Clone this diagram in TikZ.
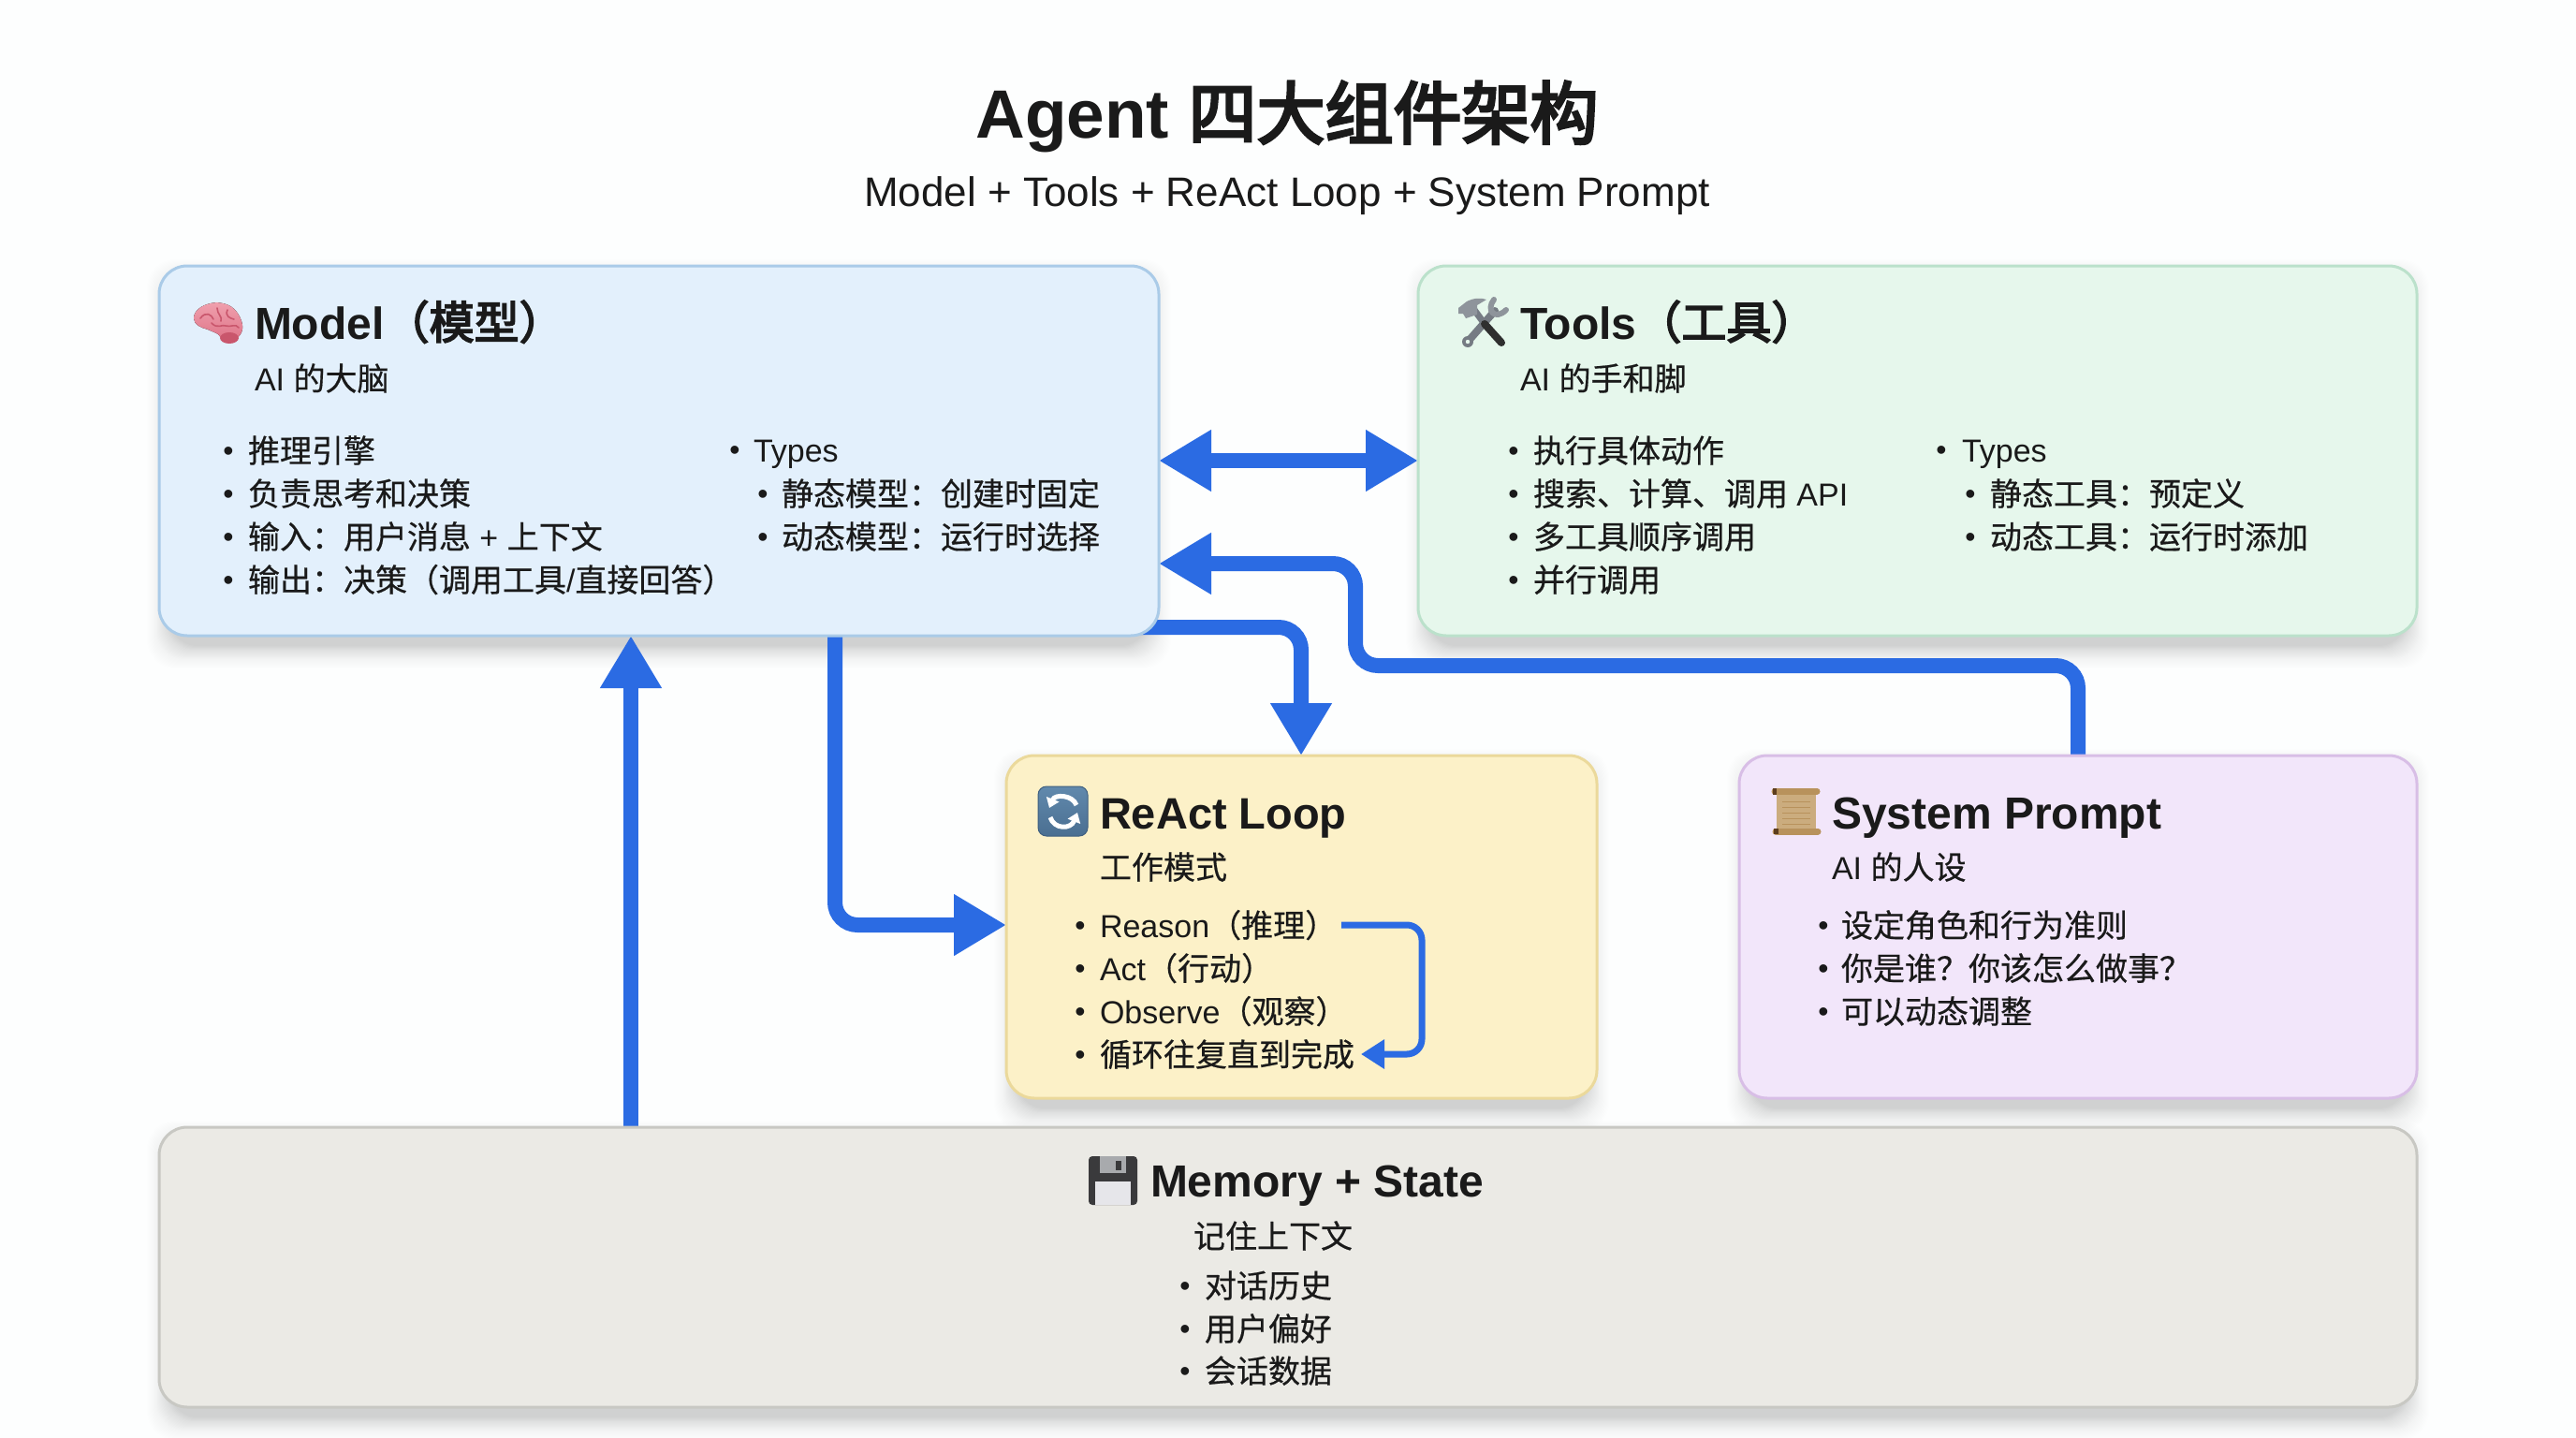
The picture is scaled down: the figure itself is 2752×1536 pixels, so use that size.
\documentclass[tikz,border=0pt]{standalone}
\usepackage{fontspec}
\usetikzlibrary{arrows.meta,calc}
\setmainfont{Liberation Sans}
\newfontfamily\cjk[FakeBold=0.5]{Noto Sans CJK SC}
\newfontfamily\cjkh[FakeBold=3.5]{Noto Sans CJK SC}
\newfontfamily\cjkt[FakeBold=4]{Noto Sans CJK SC}
\newcommand\Z[1]{{\cjk #1}}
\newcommand\ZH[1]{{\cjkh\mdseries #1}}
\newcommand\ZT[1]{{\cjkt\mdseries #1}}
\definecolor{ink}{HTML}{1A1A1A}
\definecolor{flow}{HTML}{2B6BE3}
\definecolor{pagebg}{HTML}{FDFEFE}
\definecolor{modelfill}{HTML}{E3F0FC}\definecolor{modelline}{HTML}{AACBE8}
\definecolor{toolsfill}{HTML}{E6F7EC}\definecolor{toolsline}{HTML}{BBE1CB}
\definecolor{reactfill}{HTML}{FCF1C8}\definecolor{reactline}{HTML}{EBD99B}
\definecolor{sysfill}{HTML}{F2E6FA}\definecolor{sysline}{HTML}{D8BEE6}
\definecolor{memfill}{HTML}{EBEAE5}\definecolor{memline}{HTML}{C8C8C3}
\definecolor{brainA}{HTML}{F0A0AE}\definecolor{brainB}{HTML}{DE7488}\definecolor{brainD}{HTML}{C9566C}
\definecolor{toolA}{HTML}{757B83}\definecolor{toolB}{HTML}{8E949B}\definecolor{toolC}{HTML}{2F2F2F}
\definecolor{loopA}{HTML}{6189AD}\definecolor{loopB}{HTML}{4A6F91}\definecolor{loopE}{HTML}{3F5F80}
\definecolor{scrollA}{HTML}{CBAC7E}\definecolor{scrollB}{HTML}{B8925C}\definecolor{scrollC}{HTML}{5C3D1E}
\definecolor{diskA}{HTML}{3A3A3C}\definecolor{diskB}{HTML}{A8AAAD}\definecolor{diskC}{HTML}{E6E6EA}
\pgfdeclarelayer{bglayer}\pgfdeclarelayer{shadowlayer}\pgfdeclarelayer{arrowlayer}
\pgfsetlayers{bglayer,shadowlayer,arrowlayer,main}
\tikzset{
  card/.style 2 args={draw=#2,fill=#1,line width=3pt,rounded corners=30pt,inner sep=0pt,outer sep=0pt,anchor=north west},
  txt/.style={anchor=base west,inner sep=0pt,outer sep=0pt,text=ink},
  bodytxt/.style={txt,font=\fontsize{34}{34}\selectfont},
  headtxt/.style={txt,font=\bfseries\fontsize{48}{48}\selectfont},
  flowline/.style={draw=flow,line width=16pt,rounded corners=24pt},
  bigtip/.style={-{Triangle[length=56pt,width=62pt]}},
  bothtip/.style={{Triangle[length=56pt,width=62pt]}-{Triangle[length=56pt,width=62pt]}},
  smalltip/.style={-{Triangle[length=25pt,width=30pt]}}
}
% name, bullet x, text x, baseline y, text
\newcommand\bul[5]{\node[bodytxt] (#1) at (#3,#4) {\llap{\raisebox{2pt}{\makebox[0pt]{\fontsize{32}{32}\selectfont •}}\hspace{\dimexpr #3pt-#2pt\relax}}#5};}
\newcommand\softshadow[4]{%
  \begin{pgfonlayer}{shadowlayer}
  \foreach \i in {0,...,27}{
    \pgfmathsetmacro\gr{24-\i}
    \pgfmathsetmacro\op{.001+.0004*\i}
    \fill[black,opacity=\op,rounded corners=30pt] (#1+8-\gr,#2-\gr+14) rectangle (#3-8+\gr,#4+\gr+14);
  }
  \end{pgfonlayer}}
\begin{document}
\begin{tikzpicture}[x=1pt,y=-1pt]
\useasboundingbox (0,0) rectangle (2752,1536);
\begin{pgfonlayer}{bglayer}
\fill[pagebg] (0,0) rectangle (2752,1536);
\end{pgfonlayer}
% shadows
\softshadow{170}{284}{1238}{679}
\softshadow{1515}{284}{2582}{679}
\softshadow{1075}{807}{1706}{1173}
\softshadow{1858}{807}{2582}{1173}
\softshadow{170}{1204}{2582}{1503}
% cards
\node[card={modelfill}{modelline},minimum width=1068pt,minimum height=395pt] (model) at (170,284) {};
\node[card={toolsfill}{toolsline},minimum width=1067pt,minimum height=395pt] (tools) at (1515,284) {};
\node[card={reactfill}{reactline},minimum width=631pt,minimum height=366pt] (react) at (1075,807) {};
\node[card={sysfill}{sysline},minimum width=724pt,minimum height=366pt] (sysp) at (1858,807) {};
\node[card={memfill}{memline},minimum width=2412pt,minimum height=299pt] (mem) at (170,1204) {};
% title
\node[anchor=base,inner sep=0pt,text=ink,font=\bfseries\fontsize{73}{73}\selectfont] (title) at (1375,148) {Agent \ZT{四大组件架构}};
\node[anchor=base,inner sep=0pt,text=ink,font=\fontsize{44}{44}\selectfont] (subtitle) at (1375,220) {Model + Tools + ReAct Loop + System Prompt};
% brain icon
\fill[top color=brainA,bottom color=brainB] plot[smooth cycle,tension=.7] coordinates {(207,340) (212,330) (225,324) (238,324) (250,330) (258,343) (258,355) (250,362) (237,361) (233,357) (222,352) (212,348)};
\fill[brainD] (245,361) ellipse (10pt and 6pt);
\draw[brainD,line width=1.6pt,line cap=round] (214,340) .. controls (220,332) and (226,336) .. (228,341);
\draw[brainD,line width=1.6pt,line cap=round] (226,345) .. controls (232,352) and (238,346) .. (241,348) .. controls (246,350) and (252,345) .. (255,350);
\draw[brainD,line width=1.6pt,line cap=round] (232,329) .. controls (232,336) and (238,338) .. (236,343);
\draw[brainD,line width=1.6pt,line cap=round] (243,331) .. controls (240,338) and (246,340) .. (250,341);
\node[headtxt] (hmodel) at (272,362) {Model\ZH{（模型）}};
\node[bodytxt] (smodel) at (272,417) {AI \Z{的大脑}};
\bul{m1}{244}{265}{494}{\Z{推理引擎}}
\bul{m2}{244}{265}{540}{\Z{负责思考和决策}}
\bul{m3}{244}{265}{586}{\Z{输入：用户消息} + \Z{上下文}}
\bul{m4}{244}{265}{632}{\Z{输出：决策（调用工具}/\Z{直接回答）}}
\bul{m5}{785}{805}{493}{Types}
\bul{m6}{815}{835}{540}{\Z{静态模型：创建时固定}}
\bul{m7}{815}{835}{586}{\Z{动态模型：运行时选择}}
% tools icon
\draw[toolA,line width=8pt,line cap=round] (1568,365) -- (1597,332);
\fill[toolA] (1568,365) circle (6pt);
\fill[toolsfill] (1568,365) circle (2.2pt);
\draw[toolB,line width=6pt,line cap=round] (1596,320) .. controls (1587,331) and (1597,343) .. (1609,331);
\draw[toolA,line width=7pt] (1575,331) -- (1586,346);
\draw[toolC,line width=8pt,line cap=round] (1586,346) -- (1604,366);
\fill[toolB] (1558,329) -- (1567,322) .. controls (1575,318) and (1582,318) .. (1588,320) -- (1578,326) -- (1578,336) -- (1566,340) -- (1563,335) -- (1558,335) -- cycle;
\node[headtxt] (htools) at (1624,362) {Tools\ZH{（工具）}};
\node[bodytxt] (stools) at (1624,417) {AI \Z{的手和脚}};
\bul{t1}{1617}{1638}{494}{\Z{执行具体动作}}
\bul{t2}{1617}{1638}{540}{\Z{搜索、计算、调用} API}
\bul{t3}{1617}{1638}{586}{\Z{多工具顺序调用}}
\bul{t4}{1617}{1638}{632}{\Z{并行调用}}
\bul{t5}{2074}{2096}{493}{Types}
\bul{t6}{2105}{2126}{540}{\Z{静态工具：预定义}}
\bul{t7}{2105}{2126}{586}{\Z{动态工具：运行时添加}}
% react icon
\draw[draw=loopE,top color=loopA,bottom color=loopB,line width=1pt,rounded corners=9pt] (1109,840) rectangle (1162,893);
\draw[white,line width=5pt,-{Triangle[length=10pt,width=14pt]}] (1150,860) .. controls (1146,849) and (1127,848) .. (1121,863);
\draw[white,line width=5pt,-{Triangle[length=10pt,width=14pt]}] (1122,873) .. controls (1126,886) and (1144,886) .. (1151,868);
\node[headtxt,font=\bfseries\fontsize{47}{47}\selectfont] (hreact) at (1175,885) {ReAct Loop};
\node[bodytxt] (sreact) at (1175,939) {\Z{工作模式}};
\bul{r1}{1154}{1175}{1001}{Reason\Z{（推理）}}
\bul{r2}{1154}{1175}{1047}{Act\Z{（行动）}}
\bul{r3}{1154}{1175}{1093}{Observe\Z{（观察）}}
\bul{r4}{1154}{1175}{1139}{\Z{循环往复直到完成}}
% scroll icon
\fill[scrollA] (1898,844) rectangle (1940,889);
\foreach \ly in {856,862,868,874,880}{\draw[scrollB,line width=1pt] (1904,\ly) -- (1934,\ly);}
\draw[scrollB,line width=7pt,line cap=round] (1896,845) -- (1941,845);
\draw[scrollB,line width=7pt,line cap=round] (1897,888) -- (1942,888);
\fill[scrollC] (1894,842) rectangle (1898,849);
\fill[scrollC] (1895,885) rectangle (1900,891);
\node[headtxt] (hsys) at (1957,885) {System Prompt};
\node[bodytxt] (ssys) at (1957,939) {AI \Z{的人设}};
\bul{p1}{1948}{1967}{1001}{\Z{设定角色和行为准则}}
\bul{p2}{1948}{1967}{1047}{\Z{你是谁？你该怎么做事？}}
\bul{p3}{1948}{1967}{1093}{\Z{可以动态调整}}
% disk icon
\fill[diskA,rounded corners=4pt] (1163,1235) rectangle (1215,1287);
\fill[diskB] (1175,1235) rectangle (1203,1253);
\fill[diskA] (1192,1240) rectangle (1198,1250);
\fill[diskC] (1170,1262) rectangle (1208,1287);
\node[headtxt] (hmem) at (1229,1278) {Memory + State};
\node[bodytxt] (smem) at (1275,1333) {\Z{记住上下文}};
\bul{e1}{1266}{1287}{1386}{\Z{对话历史}}
\bul{e2}{1266}{1287}{1432}{\Z{用户偏好}}
\bul{e3}{1266}{1287}{1477}{\Z{会话数据}}
% connectors
\coordinate (memx) at (674,0);
\coordinate (downx) at (892,0);
\coordinate (reacty) at (0,988);
\coordinate (outy) at (0,670);
\coordinate (inx) at (1390,0);
\coordinate (bandy) at (0,711);
\coordinate (bandx) at (1448,0);
\coordinate (backy) at (0,602);
\coordinate (sysx) at (2220,0);
\coordinate (bothy) at (0,492);
\coordinate (startx) at (1200,0);
\begin{pgfonlayer}{arrowlayer}
\draw[flowline,bothtip] (model.east |- bothy) -- (tools.west |- bothy);
\draw[flowline,bigtip] (mem.north -| memx) -- (model.south -| memx);
\draw[flowline,bigtip] (model.south -| downx) -- (reacty -| downx) -- (react.west |- reacty);
\draw[flowline,bigtip] (startx |- outy) -- (inx |- outy) -- (react.north -| inx);
\draw[flowline,bigtip] (sysp.north -| sysx) -- (sysx |- bandy) -- (bandx |- bandy) -- (bandx |- backy) -- (model.east |- backy);
\end{pgfonlayer}
\coordinate (loopa) at (1433,988);
\coordinate (loopb) at (1519,988);
\coordinate (loopd) at (1519,1126);
\coordinate (loope) at (1454,1126);
\draw[draw=flow,line width=7pt,rounded corners=16pt,smalltip] (loopa) -- (loopb) -- (loopd) -- (loope);
\end{tikzpicture}
\end{document}
